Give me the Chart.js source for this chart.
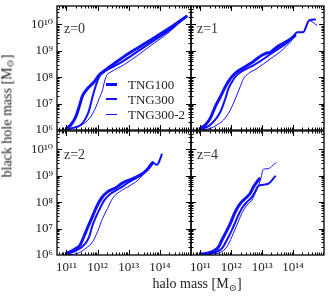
<!DOCTYPE html>
<html><head><meta charset="utf-8">
<script src="https://cdn.jsdelivr.net/npm/chart.js@4"></script>
<style>
body{margin:0;background:#fff;width:332px;height:301px;overflow:hidden;position:relative;font-family:"Liberation Serif","DejaVu Serif",serif;color:#222}
canvas{position:absolute;left:0;top:0}
.t{position:absolute;white-space:nowrap;line-height:1}
.z{font-size:14px;color:#333}
.lg{font-size:13px}
.ln{position:absolute;background:#1010ff}
sub{font-size:70%;vertical-align:-0.25em}
</style></head><body>
<script>
// ---- data (log10 of masses) ----
const panelLabels = ['z=0','z=1','z=2','z=4'];
const seriesNames = ['TNG100','TNG300','TNG300-2'];
const xTickExp = [11,12,13,14];
const yTickExp = [6,7,8,9,10];

const z0_TNG100_M  = [11.00,11.14,11.30,11.41,11.52,11.68,11.89,12.05,12.27,12.54,12.86,13.29,13.72,14.15,14.47,14.85];
const z0_TNG100_BH = [6.05,6.19,6.50,6.88,7.30,7.57,7.82,8.08,8.29,8.52,8.79,9.11,9.42,9.74,9.99,10.30];
const z0_TNG300_M  = [11.00,11.25,11.46,11.62,11.73,11.84,11.95,12.05,12.16,12.54,12.86,13.29,13.72,14.15,14.47,14.74,14.85];
const z0_TNG300_BH = [6.03,6.09,6.19,6.44,6.75,7.26,7.70,8.01,8.16,8.42,8.64,8.98,9.32,9.65,9.92,10.20,10.30];
const z0_TNG3002_M  = [11.00,11.35,11.57,11.78,11.95,12.05,12.16,12.22,12.30,12.43,12.86,13.29,13.72,14.15,14.47,14.74,14.85];
const z0_TNG3002_BH = [6.00,6.13,6.25,6.50,6.88,7.19,7.51,7.82,8.08,8.20,8.48,8.83,9.21,9.57,9.89,10.18,10.28];

const z1_TNG100_M  = [11.00,11.16,11.32,11.48,11.65,11.81,11.97,12.18,12.40,12.72,12.99,13.15,13.26,13.47,13.80,14.06];
const z1_TNG100_BH = [6.06,6.19,6.44,6.88,7.26,7.64,7.95,8.20,8.36,8.60,8.83,8.92,8.94,9.14,9.36,9.57];
const z1_TNG300_M  = [11.00,11.27,11.48,11.65,11.81,11.91,12.02,12.18,12.40,12.72,13.04,13.37,13.80,14.01,14.13,14.32,14.52,14.71];
const z1_TNG300_BH = [6.03,6.15,6.38,6.69,7.19,7.57,7.82,8.08,8.26,8.45,8.69,8.96,9.30,9.55,9.70,9.70,10.15,10.19];
const z1_TNG3002_M  = [11.00,11.32,11.54,11.75,11.91,12.02,12.18,12.29,12.40,12.56,12.83,13.26,13.69,14.01,14.13,14.32,14.52,14.77];
const z1_TNG3002_BH = [6.00,6.06,6.19,6.38,6.63,6.88,7.32,7.64,7.95,8.14,8.33,8.69,9.07,9.48,9.70,9.70,10.15,9.96];

const z2_TNG100_M  = [11.01,11.25,11.44,11.57,11.70,11.84,11.98,12.13,12.32,12.59,12.81,13.08,13.29,13.51,13.67,13.77];
const z2_TNG100_BH = [6.06,6.21,6.38,6.72,7.09,7.47,7.85,8.16,8.39,8.55,8.74,8.87,8.98,9.14,9.33,9.50];
const z2_TNG300_M  = [11.03,11.35,11.57,11.73,11.84,11.95,12.05,12.22,12.43,12.70,13.02,13.34,13.56,13.77,13.91,13.99,14.06];
const z2_TNG300_BH = [6.03,6.19,6.38,6.69,7.13,7.45,7.70,8.08,8.33,8.52,8.77,8.99,9.21,9.50,9.42,9.58,9.81];
const z2_TNG3002_M  = [11.03,11.35,11.62,11.84,12.00,12.16,12.32,12.48,12.70,12.97,13.29,13.56,13.77];
const z2_TNG3002_BH = [6.00,6.06,6.25,6.50,6.88,7.38,7.76,8.14,8.39,8.58,8.83,9.18,9.48];

const z4_TNG100_M  = [11.00,11.32,11.48,11.59,11.70,11.81,11.97,12.13,12.29,12.45,12.61,12.72,12.83,12.91];
const z4_TNG100_BH = [6.03,6.10,6.19,6.31,6.57,6.82,7.19,7.64,7.95,8.14,8.33,8.58,8.77,8.89];
const z4_TNG300_M  = [11.00,11.32,11.54,11.70,11.86,12.02,12.18,12.34,12.51,12.67,12.77,12.85,12.91,13.20,13.42];
const z4_TNG300_BH = [6.00,6.06,6.13,6.25,6.57,6.94,7.38,7.76,8.01,8.20,8.39,8.58,8.64,8.70,8.98];
const z4_TNG3002_M  = [11.00,11.32,11.65,11.86,12.02,12.18,12.34,12.51,12.67,12.77,12.88,12.94,13.04,13.20,13.31,13.45];
const z4_TNG3002_BH = [6.00,6.03,6.10,6.31,6.69,7.13,7.57,7.89,8.08,8.33,8.64,8.83,9.25,9.27,9.36,9.50];

const panelSeries = [
  [[z0_TNG100_M,z0_TNG100_BH],[z0_TNG300_M,z0_TNG300_BH],[z0_TNG3002_M,z0_TNG3002_BH]],
  [[z1_TNG100_M,z1_TNG100_BH],[z1_TNG300_M,z1_TNG300_BH],[z1_TNG3002_M,z1_TNG3002_BH]],
  [[z2_TNG100_M,z2_TNG100_BH],[z2_TNG300_M,z2_TNG300_BH],[z2_TNG3002_M,z2_TNG3002_BH]],
  [[z4_TNG100_M,z4_TNG100_BH],[z4_TNG300_M,z4_TNG300_BH],[z4_TNG3002_M,z4_TNG3002_BH]]
];

// ---- styling / layout ----
const W = 332, H = 301;
const lineColor = '#1010ff';
const lineWidths = [3, 2, 1];
const areas = [[57,6,191,130],[191,6,324,130],[57,131,191,255],[191,131,324,255]];
const Y_AXIS_W = 50, X_AXIS_H = 28;
const FONT = '"Liberation Serif","DejaVu Serif",serif';
const sup = {'0':'⁰','1':'¹','2':'²','3':'³','4':'⁴','5':'⁵','6':'⁶','7':'⁷','8':'⁸','9':'⁹'};
const powLabel = v => '10' + String(Math.round(Math.log10(v))).split('').map(c=>sup[c]).join('');

const framePlugin = {
  id: 'frame',
  afterDatasetsDraw(chart) {
    const {ctx, chartArea: a, scales: {x, y}} = chart;
    ctx.save();
    ctx.strokeStyle = '#000';
    ctx.lineWidth = 1;
    const seg = (x1,y1,x2,y2) => { ctx.beginPath(); ctx.moveTo(x1,y1); ctx.lineTo(x2,y2); ctx.stroke(); };
    for (let e = 10; e <= 14; e++) for (let m = 1; m <= 9; m++) {
      const v = m * Math.pow(10, e);
      if (v <= x.min || v >= x.max) continue;
      const px = Math.round(x.getPixelForValue(v)) + 0.5, L = m === 1 ? 5 : 2.5;
      seg(px, a.bottom, px, a.bottom - L); seg(px, a.top, px, a.top + L);
    }
    for (let e = 6; e <= 10; e++) for (let m = 1; m <= 9; m++) {
      const v = m * Math.pow(10, e);
      if (v <= y.min || v >= y.max) continue;
      const py = Math.round(y.getPixelForValue(v)) + 0.5, L = m === 1 ? 5 : 2.5;
      seg(a.left, py, a.left + L, py); seg(a.right, py, a.right - L, py);
    }
    ctx.lineWidth = 1.3;
    ctx.strokeRect(a.left, a.top, a.right - a.left, a.bottom - a.top);
    ctx.restore();
  }
};

const zeroFit = s => { s.paddingLeft = s.paddingRight = s.paddingTop = s.paddingBottom = 0; };

panelSeries.forEach((series, p) => {
  const ar = areas[p];
  const showX = p >= 2, showY = p % 2 === 0;
  const yw = showY ? Y_AXIS_W : 0, xh = showX ? X_AXIS_H : 0;
  const cv = document.createElement('canvas');
  cv.width = W; cv.height = H;
  document.body.appendChild(cv);
  new Chart(cv, {
    type: 'scatter',
    data: {
      datasets: series.map((s, i) => ({
        label: seriesNames[i],
        data: s[0].map((m, k) => ({x: Math.pow(10, m), y: Math.pow(10, s[1][k])})),
        showLine: true, borderColor: lineColor, backgroundColor: lineColor,
        borderWidth: lineWidths[i], pointRadius: 0, fill: false,
        cubicInterpolationMode: 'monotone', borderJoinStyle: 'round', borderCapStyle: 'round'
      }))
    },
    options: {
      responsive: false, animation: false, events: [],
      layout: {padding: {left: ar[0] - yw, top: ar[1], right: W - ar[2], bottom: H - ar[3] - xh}},
      plugins: {legend: {display: false}, tooltip: {enabled: false}},
      scales: {
        x: {
          type: 'logarithmic', min: 5e10, max: 1e15,
          grid: {display: false, drawTicks: false}, border: {display: false},
          afterBuildTicks: s => { s.ticks = xTickExp.map(e => ({value: Math.pow(10, e)})); },
          afterFit: s => { s.height = xh; zeroFit(s); },
          ticks: {display: showX, autoSkip: false, maxRotation: 0, padding: 5, color: '#222',
                  font: {family: FONT, size: 13}, callback: v => powLabel(v)}
        },
        y: {
          type: 'logarithmic', min: 1e6, max: 5e10,
          grid: {display: false, drawTicks: false}, border: {display: false},
          afterBuildTicks: s => { s.ticks = yTickExp.map(e => ({value: Math.pow(10, e)})); },
          afterFit: s => { s.width = yw; zeroFit(s); },
          ticks: {display: showY, autoSkip: false, padding: 4, color: '#222',
                  font: {family: FONT, size: 13}, callback: v => powLabel(v)}
        }
      }
    },
    plugins: [framePlugin]
  });
});

// ---- text overlays ----
const add = (html, cls, style) => { const d = document.createElement('div'); d.className = 't ' + cls; d.innerHTML = html; Object.assign(d.style, style); document.body.appendChild(d); return d; };
const zPos = [[64,22],[197,22],[64,148],[197,148]];
panelLabels.forEach((t, i) => add(t, 'z', {left: zPos[i][0] + 'px', top: zPos[i][1] + 'px'}));

const legY = [84, 99, 114];
seriesNames.forEach((n, i) => {
  const l = document.createElement('div'); l.className = 'ln';
  Object.assign(l.style, {left: '106px', width: '11px', top: (legY[i] - lineWidths[i] / 2) + 'px', height: lineWidths[i] + 'px'});
  document.body.appendChild(l);
  add(n, 'lg', {left: '128px', top: (legY[i] - 6.5) + 'px'});
});

add('halo mass [M<sub>⊙</sub>]', 'lg', {left: '197px', top: '285px', transform: 'translate(-50%,-50%)', fontSize: '14px'});
add('black hole mass [M<sub>⊙</sub>]', 'lg', {left: '8px', top: '116px', transform: 'translate(-50%,-50%) rotate(-90deg)', fontSize: '14px'});
</script>
</body></html>
